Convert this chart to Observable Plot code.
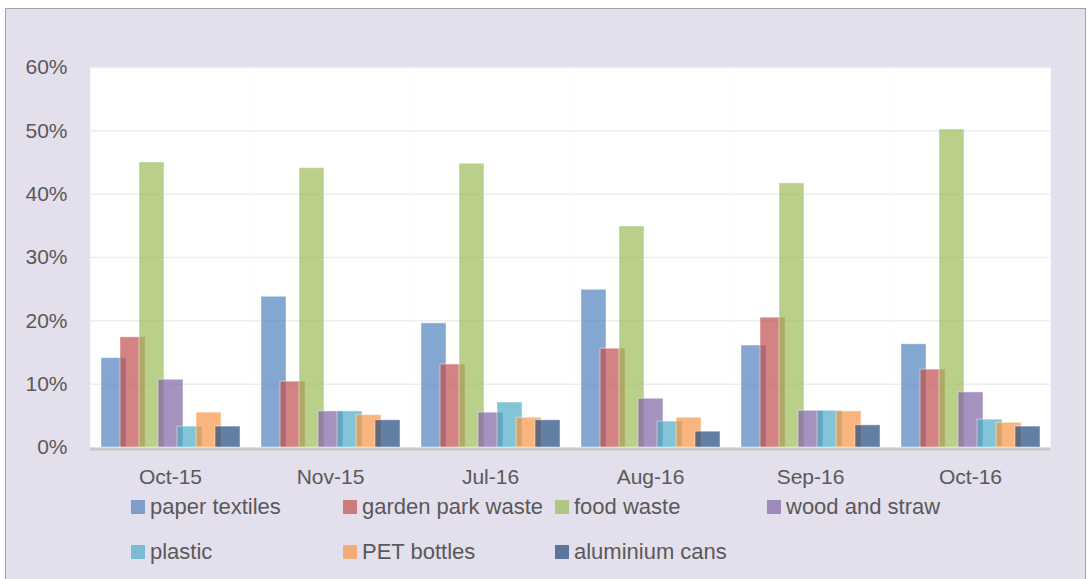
<!DOCTYPE html>
<html>
<head>
<meta charset="utf-8">
<script src="https://cdn.jsdelivr.net/npm/d3@7"></script>
<script src="https://cdn.jsdelivr.net/npm/@observablehq/plot@0.6"></script>
<style>
  html, body { margin: 0; padding: 0; background: #ffffff; }
  body { width: 1090px; height: 579px; overflow: hidden; position: relative; font-family: "Liberation Sans", Arial, sans-serif; }
  #box { position: absolute; left: 5px; top: 8px; width: 1079px; height: 600px; background: #E4DFEC; border: 1.5px solid #A3A3A3; }
  #chart { position: absolute; left: 0; top: 0; }
  #legend { position: absolute; left: 131px; top: 484px; display: grid; grid-template-columns: repeat(4, 212px); grid-auto-rows: 45px; }
  .item { display: flex; align-items: center; font-size: 22px; color: #595959; white-space: nowrap; }
  .sw { display: inline-block; width: 14px; height: 14px; margin-right: 5px; opacity: 0.7; }
</style>
</head>
<body>
<div id="box"></div>
<div id="chart"></div>
<div id="legend"></div>
<script>
const months = ["Oct-15", "Nov-15", "Jul-16", "Aug-16", "Sep-16", "Oct-16"];
const series = ["paper textiles", "garden park waste", "food waste", "wood and straw", "plastic", "PET bottles", "aluminium cans"];
const paperTextiles   = [14.1, 23.8, 19.6, 24.9, 16.1, 16.3];
const gardenParkWaste = [17.4, 10.4, 13.1, 15.6, 20.5, 12.3];
const foodWaste       = [45.0, 44.1, 44.8, 34.9, 41.7, 50.2];
const woodAndStraw    = [10.7,  5.7,  5.5,  7.7,  5.8,  8.7];
const plastic         = [ 3.3,  5.7,  7.1,  4.1,  5.8,  4.4];
const petBottles      = [ 5.5,  5.1,  4.7,  4.7,  5.7,  3.9];
const aluminiumCans   = [ 3.3,  4.3,  4.3,  2.5,  3.5,  3.3];
const yTicks = [0, 10, 20, 30, 40, 50, 60];
const colors = ["#4F81BD", "#C0504D", "#9BBB59", "#8064A2", "#4BACC6", "#F79646", "#1F497D"];

const valuesBySeries = [paperTextiles, gardenParkWaste, foodWaste, woodAndStraw, plastic, petBottles, aluminiumCans];
const data = [];
months.forEach((m, i) => {
  series.forEach((s, j) => data.push({month: m, series: s, value: valuesBySeries[j][i]}));
});

const chart = Plot.plot({
  width: 1090,
  height: 500,
  marginLeft: 88,
  marginRight: 38,
  marginTop: 67,
  marginBottom: 53,
  style: {background: "transparent", fontFamily: "'Liberation Sans', Arial, sans-serif", fontSize: "21px", color: "#595959"},
  fx: {domain: months, padding: 0, label: null, axis: "bottom", tickSize: 0, tickPadding: 22},
  x: {domain: series, paddingInner: 0, paddingOuter: 0.705, axis: null},
  y: {domain: [0, 60], ticks: yTicks, tickFormat: d => d + "%", tickSize: 0, tickPadding: 23, label: null},
  color: {domain: series, range: colors},
  marks: [
    Plot.frame({fill: "white", stroke: "white", strokeWidth: 0.5}),
    Plot.gridY(yTicks.filter(d => d > 0), {stroke: "#EDEDED", strokeOpacity: 1, strokeWidth: 1.5}),
    Plot.barY(data, {fx: "month", x: "series", y: "value", fill: "series", fillOpacity: 0.7, insetLeft: -3, insetRight: -3, stroke: "white", strokeOpacity: 0.45, strokeWidth: 1}),
    Plot.ruleY([0], {stroke: "#C8C8C8", strokeWidth: 3, dy: 1.5})
  ]
});
document.getElementById("chart").appendChild(chart);

const legend = document.getElementById("legend");
series.forEach((s, j) => {
  const item = document.createElement("div");
  item.className = "item";
  const sw = document.createElement("span");
  sw.className = "sw";
  sw.style.background = colors[j];
  item.appendChild(sw);
  item.appendChild(document.createTextNode(s));
  legend.appendChild(item);
});
</script>
</body>
</html>
